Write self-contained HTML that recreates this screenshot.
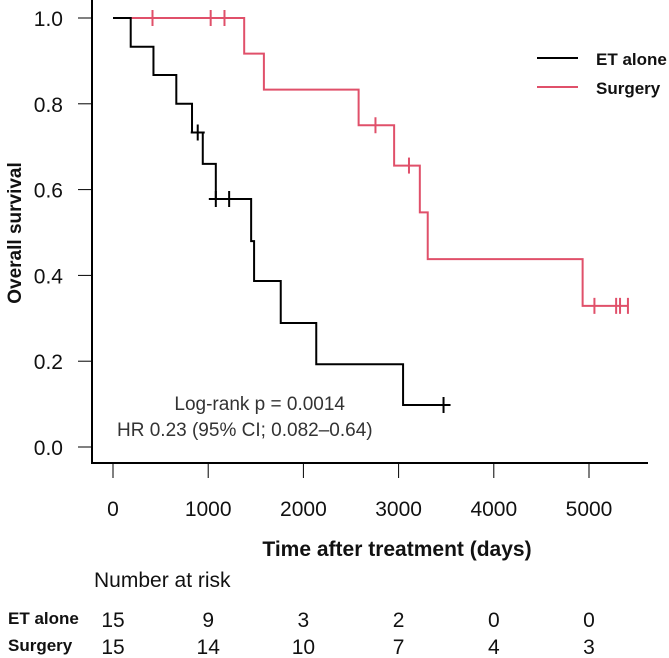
<!DOCTYPE html>
<html><head><meta charset="utf-8"><style>
body{margin:0;background:#fff;}
svg{display:block;font-family:"Liberation Sans","Noto Sans CJK JP",sans-serif;}
</style></head><body>
<svg id="chart" width="669" height="658" viewBox="0 0 669 658"></svg>
<script>
const xTicks=[0,1000,2000,3000,4000,5000];
const yTicks=[0,0.2,0.4,0.6,0.8,1.0];
const yTickLabels=["0.0","0.2","0.4","0.6","0.8","1.0"];
const etTimes=[0,186,425,665,830,943,1080,1451,1482,1762,2135,3047,3472];
const etSurv=[1.0,0.933,0.867,0.8,0.733,0.66,0.578,0.48,0.387,0.289,0.193,0.098,0.098];
const etCensor=[890,1080,1220,3472];
const surgTimes=[0,1378,1585,2580,2953,3223,3306,4933,5409];
const surgSurv=[1.0,0.917,0.833,0.75,0.656,0.547,0.438,0.329,0.329];
const surgCensor=[415,1026,1171,2757,3109,5057,5285,5326,5409];
const riskET=[15,9,3,2,0,0];
const riskSurg=[15,14,10,7,4,3];

const NS="http://www.w3.org/2000/svg";
const svg=document.getElementById('chart');
const X=d=>113+d*0.0952;
const Y=v=>447-v*429;
function mk(tag,attrs,parent){const e=document.createElementNS(NS,tag);for(const k in attrs)e.setAttribute(k,attrs[k]);(parent||svg).appendChild(e);return e;}
function txt(s,attrs){const e=mk('text',attrs);e.textContent=s;return e;}

let a=mk('path',{d:'M92 0 V463 H648',fill:'none',stroke:'#000','stroke-width':2});


yTicks.forEach((v,i)=>{
  let t=mk('line',{x1:78,x2:92,y1:Y(v),y2:Y(v),stroke:'#000','stroke-width':1});
  
  
  let l=txt(yTickLabels[i],{x:63,y:Y(v)+8,'text-anchor':'end','font-size':21,fill:'#111'});
  
  
});
xTicks.forEach((d,i)=>{
  let t=mk('line',{x1:X(d),x2:X(d),y1:463,y2:478,stroke:'#000','stroke-width':1});
  
  
  let l=txt(String(d),{x:X(d),y:516,'text-anchor':'middle','font-size':21,fill:'#111'});
  
  
  let r1=txt(String(riskET[i]),{x:X(d),y:627,'text-anchor':'middle','font-size':21,fill:'#111'});
  
  
  let r2=txt(String(riskSurg[i]),{x:X(d),y:654,'text-anchor':'middle','font-size':21,fill:'#111'});
  
  
});

function stepPath(ts,ss){let d='M'+X(ts[0])+' '+Y(ss[0]);for(let i=1;i<ts.length;i++){d+=' H'+X(ts[i])+' V'+Y(ss[i]);}return d;}
function survAt(ts,ss,t){let v=ss[0];for(let i=0;i<ts.length;i++){if(ts[i]<=t)v=ss[i];}return v;}

let ps=mk('path',{d:stepPath(surgTimes,surgSurv),fill:'none',stroke:'#e0506a','stroke-width':2});


surgCensor.forEach(t=>{const y=Y(survAt(surgTimes,surgSurv,t));
  let c=mk('line',{x1:X(t),x2:X(t),y1:y-8,y2:y+8,stroke:'#e0506a','stroke-width':2});
  
  });

let pe=mk('path',{d:stepPath(etTimes,etSurv),fill:'none',stroke:'#000','stroke-width':2});


etCensor.forEach(t=>{const y=Y(survAt(etTimes,etSurv,t));
  let c=mk('path',{d:`M${X(t)} ${y-8}V${y+8}M${X(t)-7} ${y}H${X(t)+7}`,stroke:'#000','stroke-width':2});
  
  });
</script>
<div style="position:absolute;left:0;top:0;width:669px;height:658px;pointer-events:none;">
<svg width="669" height="658" style="font-family:'Liberation Sans','Noto Sans CJK JP',sans-serif;">
<line x1="537" y1="58" x2="578" y2="58" stroke="#000" stroke-width="2"/>
<text x="596" y="65" font-size="17" font-weight="bold" fill="#111">ET alone</text>
<line x1="537" y1="87" x2="578" y2="87" stroke="#e0506a" stroke-width="2"/>
<text x="596" y="94" font-size="17" font-weight="bold" fill="#111">Surgery</text>
<text x="345" y="410" text-anchor="end" font-size="19" fill="#333">Log-rank p = 0.0014</text>
<text x="117" y="436" font-size="19" fill="#333">HR 0.23 (95% CI; 0.082–0.64)</text>
<text transform="translate(21,233) rotate(-90)" text-anchor="middle" font-size="19" font-weight="bold" fill="#111">Overall survival</text>
<text x="397" y="556" text-anchor="middle" font-size="21" font-weight="bold" fill="#111">Time after treatment (days)</text>
<text x="94" y="587" font-size="21" fill="#111">Number at risk</text>
<text x="8" y="624" font-size="17" font-weight="bold" fill="#111">ET alone</text>
<text x="8" y="651" font-size="17" font-weight="bold" fill="#111">Surgery</text>
</svg></div>
</body></html>
